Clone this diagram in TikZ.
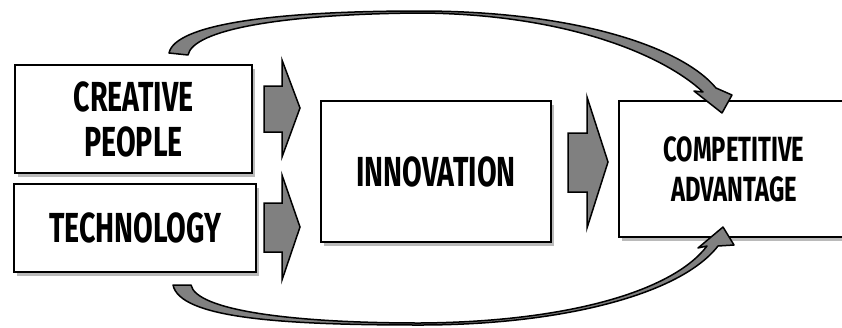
\documentclass[tikz,border=0pt]{standalone}
\usepackage{fontspec}
\newfontfamily\agency[FakeStretch=0.68,UprightFont=* Bold]{Fira Sans}
\usetikzlibrary{shadows}

\begin{document}
\begin{tikzpicture}[x=1pt,y=-1pt]
	% Define colors
	\definecolor{arrowgray}{RGB}{128,128,128}
	\definecolor{shadowgray}{RGB}{140,140,140}

	% Styles
	\tikzstyle{factor_box} = [draw=black, line width=2pt, fill=white, drop shadow={shadow xshift=3pt, shadow yshift=-4pt, fill=shadowgray, opacity=0.6}, font=\agency\fontsize{42}{45}\selectfont, align=center, inner sep=0pt]
	\tikzstyle{block_arrow} = [draw=black, line width=1.5pt, fill=arrowgray, line join=miter]
	\tikzstyle{curve_arrow} = [draw=black, line width=1.5pt, fill=arrowgray, line join=round]

	\useasboundingbox (0,0) rectangle (842,327);

	% Input boxes (left)
	\node[factor_box, minimum width=237pt, minimum height=108pt] (creative) at (133.5,119) {CREATIVE\\PEOPLE};
	\node[factor_box, minimum width=242pt, minimum height=88pt] (tech) at (135,228) {TECHNOLOGY};

	% Middle and result boxes
	\node[factor_box, minimum width=230pt, minimum height=141pt] (innov) at (436,171.5) {INNOVATION};
	\node[factor_box, minimum width=230pt, minimum height=136pt, font=\agency\fontsize{35}{40}\selectfont] (comp) at (734,169) {COMPETITIVE\\ADVANTAGE};

	% Block arrows between boxes
	\draw[block_arrow] (264,86) -- (282,86) -- (282,60) -- (300,108) -- (282,157) -- (282,132) -- (264,132) -- cycle;
	\draw[block_arrow] (264,203) -- (282,203) -- (282,175) -- (300,227) -- (282,280) -- (282,252) -- (264,252) -- cycle;
	\draw[block_arrow] (568,133) -- (587,133) -- (587,97) -- (608,162) -- (587,228) -- (587,192) -- (568,192) -- cycle;

	% Curved arrows to competitive advantage
	\draw[curve_arrow] (169,53) .. controls (175,25) and (270,11) .. (420,11) .. controls (570,11) and (680,45) .. (716,88) -- (732,95) -- (722,113) -- (694,91) -- (703,92) .. controls (662,54) and (565,14) .. (420,13) .. controls (280,14) and (193,30) .. (188,55) -- cycle;
	\draw[curve_arrow] (173,285) .. controls (180,318) and (280,325) .. (420,325) .. controls (560,325) and (680,295) .. (718,246) -- (734,245) -- (723,227) -- (698,248) -- (707,246) .. controls (672,292) and (565,322) .. (420,323) .. controls (290,323) and (196,310) .. (191,285) -- cycle;

\end{tikzpicture}
\end{document}
